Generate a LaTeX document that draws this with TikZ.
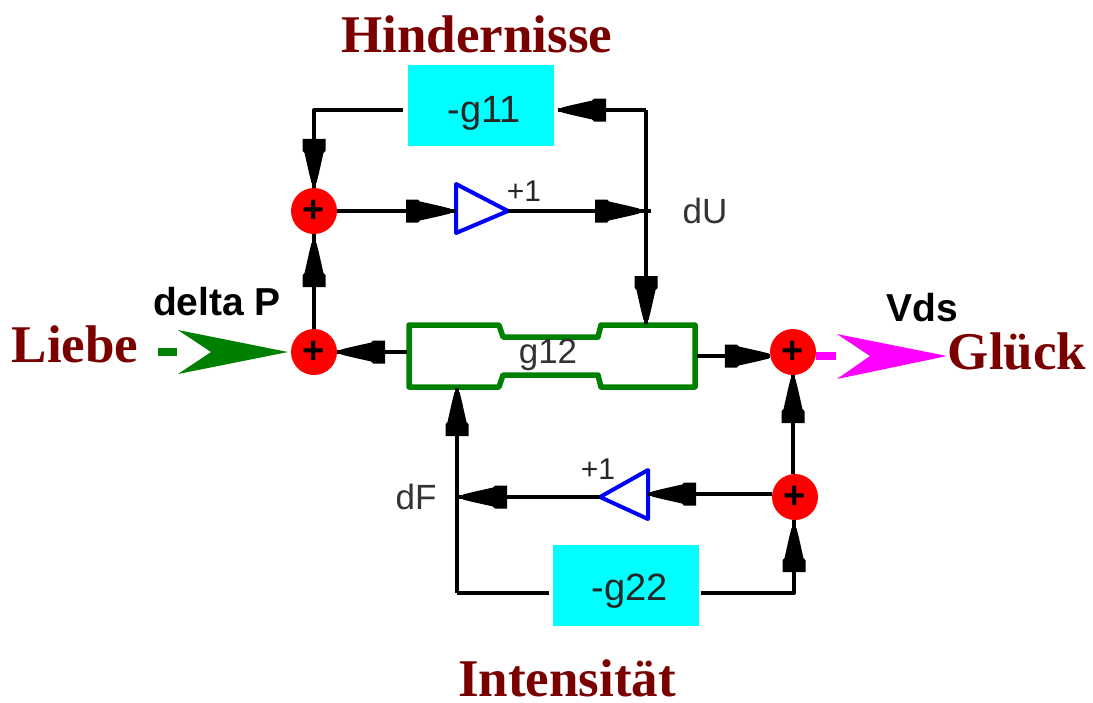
\documentclass[tikz,border=0pt]{standalone}
\usepackage{fontspec}
\setmainfont{Liberation Serif}
\setsansfont{Liberation Sans}
\usetikzlibrary{decorations.markings}
\definecolor{dred}{RGB}{122,0,0}
\definecolor{dgreen}{RGB}{0,128,0}
\definecolor{mag}{RGB}{255,0,255}
\definecolor{cy}{RGB}{0,255,255}
\tikzset{
  x=1pt,y=-1pt,
  conn/.style={draw=black,line width=4pt,line join=round},
  tipat/.style={postaction={decorate,decoration={markings,mark=at position #1 with {
    \fill[black] (0,-2.5)--(-10,-5)--(-30,-9.5)--(-32,-11.5)--(-44,-11.5)--(-44,11.5)--(-32,11.5)--(-30,9.5)--(-10,5)--(0,2.5)--cycle;}}}},
  sumn/.style={circle,fill=red,minimum size=46pt,inner sep=0pt,font=\sffamily\bfseries\fontsize{38}{38}\selectfont},
  gain/.style={rectangle,fill=cy,minimum width=146pt,minimum height=81pt,inner sep=0pt},
  lab/.style={inner sep=0pt,text=black!80,font=\sffamily\fontsize{35}{35}\selectfont},
  glab/.style={inner sep=0pt,text=black!85,font=\sffamily\fontsize{38}{38}\selectfont},
  plab/.style={inner sep=0pt,text=black!85,font=\sffamily\fontsize{30}{30}\selectfont},
  blab/.style={inner sep=0pt,font=\sffamily\bfseries\fontsize{39}{39}\selectfont},
  title/.style={inner sep=0pt,text=dred,font=\rmfamily\bfseries\fontsize{53}{53}\selectfont},
  amp/.style={draw=blue,line width=4pt,line join=round},
  blk/.style={draw=dgreen,line width=5.5pt,line join=round}
}
\begin{document}
\begin{tikzpicture}
\useasboundingbox (0,0) rectangle (1093,702);
% titles
\node[title] (hind) at (477,34) {Hindernisse};
\node[title] (liebe) at (75,344) {Liebe};
\node[title] (glueck) at (1017,351) {Glück};
\node[title] (inten) at (567,678) {Intensität};
% blocks
\node[gain] (g11) at (481,105.5) {};
\node[gain] (g22) at (625.5,585.5) {};
\node[glab] (g11t) at (484,113) {-g11};
\node[glab] (g22t) at (630,591) {-g22};
\node[sumn] (s1) at (314,211) {+};
\node[sumn] (s2) at (314,352) {+};
\node[sumn] (s3) at (793,352) {+};
\node[sumn] (s4) at (795,497) {+};
% g12 block
\node[minimum width=290pt,minimum height=64pt,inner sep=0pt] (g12) at (552,356) {};
\draw[blk] (409,325)--(499,325)--(503,337)--(598,337)--(601,325)--(695,325)--(695,387)--(601,387)--(598,375)--(503,375)--(499,387)--(409,387)--cycle;
\node[lab] (g12t) at (548,355) {g12};
% amplifiers
\coordinate (a1in) at (456,211); \coordinate (a1out) at (508,211);
\coordinate (a2in) at (648,494); \coordinate (a2out) at (600,497);
\draw[amp] (456,184)--(508,211)--(456,233)--cycle;
\draw[amp] (648,470)--(600,497)--(648,519)--cycle;
% junctions
\coordinate (ju) at (646,110);
\coordinate (jr) at (651,211);
\coordinate (jd) at (457,593);
\coordinate (jl) at (457,497);
\coordinate (tl) at (314,110);
\coordinate (br) at (794,593);
% connectors
\draw[conn,tipat=-5pt] ([xshift=-5pt,yshift=-4.5pt]g11.west) -- (tl) -- (s1.north);
\draw[conn,tipat=-6pt] (s1.east) -- (a1in);
\draw[conn,tipat=-12pt] (a1out) -- (jr);
\draw[conn,tipat=-4pt] (ju) -- ([xshift=4pt,yshift=-4.5pt]g11.east);
\draw[conn,tipat=-4pt] (ju) -- (646,324);
\draw[conn,tipat=-9pt] (s2.north) -- (s1.south);
\draw[conn,tipat=-4pt] (s2 -| g12.west) -- (s2.east);
\draw[conn,tipat=-1pt] ([yshift=-4pt]s3 -| g12.east) -- ([yshift=-4pt]s3.west);
\draw[conn,tipat=-4pt] (s4.north -| s3) -- (s3.south);
\draw[conn,tipat=-4pt] ([yshift=3pt]s4.west) -- (a2in);
\draw[conn,tipat=-6pt] (a2out) -- (jl);
\draw[conn,tipat=-4pt] (jd) -- (457,388);
\draw[conn] ([xshift=-3pt,yshift=-7.5pt]g22.west) -- (jd);
\draw[conn,tipat=-8pt] ([xshift=2pt,yshift=-7.5pt]g22.east) -- (br) -- (s4.south -| br);
% input and output
\coordinate (dash1) at (158,352); \coordinate (dash1e) at (177,352);
\draw[draw=dgreen,line width=8pt] (dash1) -- (dash1e);
\fill[dgreen] (178,330)--(288,352)--(178,374)--(211,352)--cycle;
\coordinate (dash2) at (816,356); \coordinate (dash2e) at (836,356);
\draw[draw=mag,line width=8pt] (dash2) -- (dash2e);
\fill[mag] (837,334)--(947,356)--(837,379)--(870,356)--cycle;
% labels
\node[blab] (dp) at (217,302) {delta P};
\node[blab] (vds) at (922,308) {Vds};
\node[lab] (du) at (705,211) {dU};
\node[lab] (df) at (416,497) {dF};
\node[plab] (p1) at (524,191) {+1};
\node[plab] (p2) at (598,469) {+1};
\end{tikzpicture}
\end{document}
